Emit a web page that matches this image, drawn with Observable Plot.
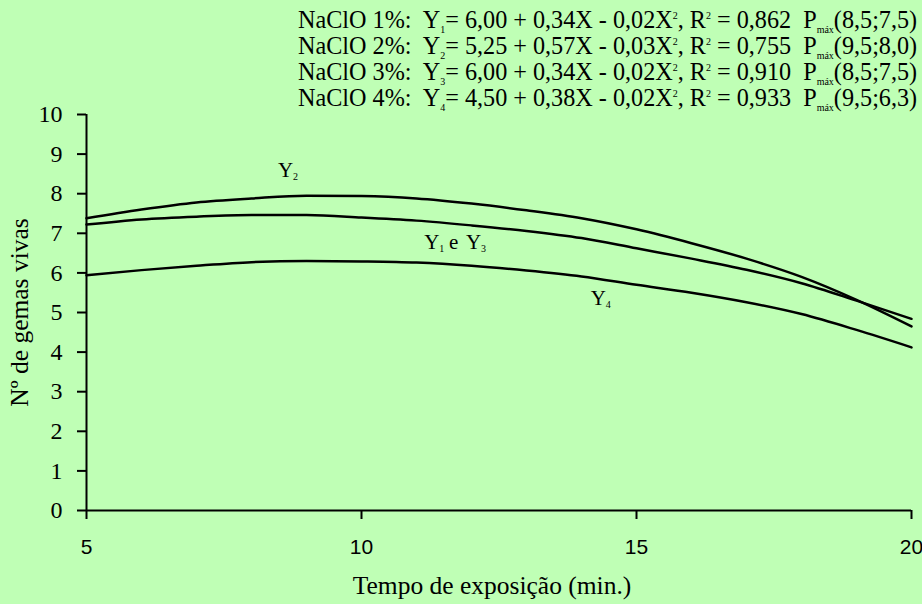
<!DOCTYPE html>
<html>
<head>
<meta charset="utf-8">
<script src="https://cdn.jsdelivr.net/npm/d3@7"></script>
<script src="https://cdn.jsdelivr.net/npm/@observablehq/plot@0.6"></script>
<style>
  html, body { margin: 0; padding: 0; background: #bfffb5; }
  #wrap { position: relative; width: 922px; height: 604px; background: #bfffb5; overflow: hidden; }
  #wrap svg { position: absolute; left: 0; top: 0; }
  #eq { position: absolute; left: 298px; top: 7px; font-family: "Liberation Serif", serif; font-size: 24.2px; color: #000; white-space: pre; line-height: 26px; }
  #eq .l { height: 26px; }
  #eq .sb { font-size: 10px; position: relative; top: 5px; }
  #eq .sp { font-size: 10px; position: relative; top: -9px; }
</style>
</head>
<body>
<div id="wrap"><div id="eq"></div></div>
<script>
// ---- data ----
const minutes = [5, 6, 7, 8, 9, 10, 11, 12, 13, 14, 15, 16, 17, 18, 19, 20];
const y2   = [7.38, 7.60, 7.78, 7.88, 7.95, 7.94, 7.88, 7.75, 7.58, 7.38, 7.10, 6.75, 6.36, 5.90, 5.32, 4.65];
const y1e3 = [7.22, 7.35, 7.42, 7.46, 7.46, 7.40, 7.32, 7.20, 7.06, 6.88, 6.62, 6.36, 6.08, 5.74, 5.30, 4.84];
const y4   = [5.94, 6.07, 6.18, 6.27, 6.30, 6.29, 6.26, 6.18, 6.06, 5.91, 5.70, 5.50, 5.26, 4.96, 4.56, 4.12];
const seriesNames = ["Y2", "Y1 e Y3", "Y4"];
const xTicks = [5, 10, 15, 20];
const yTicks = [0, 1, 2, 3, 4, 5, 6, 7, 8, 9, 10];
const xTitle = "Tempo de exposição (min.)";
const yTitle = "Nº de gemas vivas";
// equation legend
const conc = ["1%", "2%", "3%", "4%"];
const eqA = ["6,00", "5,25", "6,00", "4,50"];
const eqB = ["0,34", "0,57", "0,34", "0,38"];
const eqC = ["0,02", "0,03", "0,02", "0,02"];
const r2 = ["0,862", "0,755", "0,910", "0,933"];
const pmax = ["(8,5;7,5)", "(9,5;8,0)", "(8,5;7,5)", "(9,5;6,3)"];
// curve labels (anchor in data units, main letter + subscript)
const curveLabels = [
  {x: 8.48, y: 8.42, t: "Y", s: "2"},
  {x: 11.14, y: 6.60, t: "Y", s: "1"},
  {x: 11.59, y: 6.60, t: "e", s: ""},
  {x: 11.90, y: 6.60, t: "Y", s: "3"},
  {x: 14.17, y: 5.18, t: "Y", s: "4"}
];

const values = [y2, y1e3, y4];
const rows = [];
seriesNames.forEach((name, k) => minutes.forEach((m, i) => rows.push({series: name, x: m, y: values[k][i]})));

const bg = "#bfffb5";
const serif = "Liberation Serif, serif";
const chart = Plot.plot({
  width: 922,
  height: 604,
  marginLeft: 86,
  marginRight: 11,
  marginTop: 114,
  marginBottom: 94,
  style: {background: bg, fontFamily: serif, color: "black", overflow: "visible"},
  x: {domain: [5, 20], label: null},
  y: {domain: [0, 10], label: null},
  marks: [
    Plot.ruleX([5], {stroke: "black", strokeWidth: 2}),
    Plot.ruleY([0], {stroke: "black", strokeWidth: 2}),
    Plot.axisX({ticks: xTicks, tickSize: 9, tickPadding: 20, strokeWidth: 2, fontSize: 21, fontFamily: "Liberation Sans, sans-serif", label: null}),
    Plot.axisY({ticks: yTicks, tickSize: 9, tickPadding: 15, strokeWidth: 2, fontSize: 24, fontFamily: serif, label: null}),
    Plot.line(rows, {x: "x", y: "y", z: "series", curve: "monotone-x", stroke: "black", strokeWidth: 2.5}),
    Plot.text(curveLabels, {x: "x", y: "y", text: "t", textAnchor: "start", lineAnchor: "bottom", fontSize: 21, fontFamily: serif}),
    Plot.text(curveLabels, {x: "x", y: "y", text: "s", textAnchor: "start", lineAnchor: "bottom", fontSize: 10, dx: 15, dy: 3, fontFamily: serif}),
    Plot.text([xTitle], {frameAnchor: "bottom", text: d => d, lineAnchor: "bottom", textAnchor: "middle", dy: 83, dx: -7, fontSize: 25.5, fontFamily: serif}),
    Plot.text([yTitle], {frameAnchor: "left", text: d => d, lineAnchor: "top", textAnchor: "middle", rotate: -90, dx: -77, fontSize: 25.5, fontFamily: serif})
  ]
});
// make sure tick labels use the intended families
d3.select(chart).selectAll('g[aria-label="y-axis tick label"], g[aria-label="y-axis tick label"] text').attr("font-family", serif);
d3.select(chart).selectAll('g[aria-label="x-axis tick label"], g[aria-label="x-axis tick label"] text').attr("font-family", "Liberation Sans, sans-serif");

const wrap = document.getElementById("wrap");
wrap.insertBefore(chart, wrap.firstChild);

const eq = document.getElementById("eq");
eq.innerHTML = conc.map((c, i) =>
  `<div class="l">NaClO ${c}:  Y<span class="sb">${i + 1}</span>= ${eqA[i]} + ${eqB[i]}X - ${eqC[i]}X<span class="sp">2</span>, R<span class="sp">2</span> = ${r2[i]}  P<span class="sb">máx</span>${pmax[i]}</div>`
).join("");
</script>
</body>
</html>
